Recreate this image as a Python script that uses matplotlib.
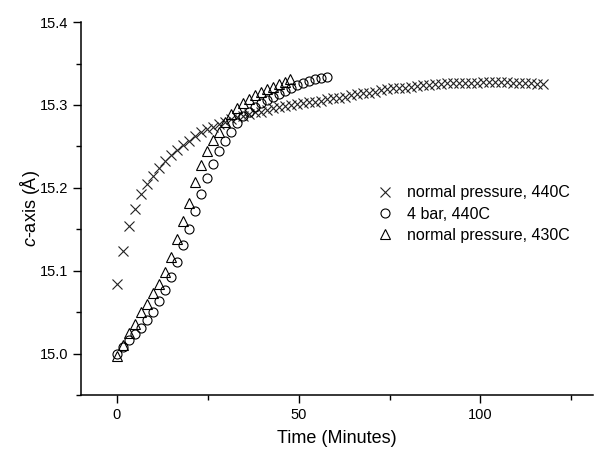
import matplotlib
matplotlib.use('Agg')
import matplotlib.pyplot as plt
from matplotlib.ticker import MultipleLocator

plt.rcParams['font.family'] = ['Liberation Sans', 'DejaVu Sans']
plt.rcParams['mathtext.fontset'] = 'custom'
plt.rcParams['mathtext.it'] = 'Liberation Sans:italic'
plt.rcParams['mathtext.rm'] = 'Liberation Sans'

# normal pressure, 440C  (x markers)
t_np440 = [0.0, 1.65, 3.3, 5.0, 6.6, 8.3, 9.9, 11.6, 13.2, 14.9, 16.5, 18.2, 19.8,
           21.5, 23.1, 24.8, 26.4, 28.1, 29.7, 31.4, 33.0, 34.7, 36.3, 38.0, 39.6,
           41.3, 42.9, 44.6, 46.2, 47.9, 49.5, 51.2, 52.8, 54.5, 56.1, 57.8, 59.4,
           61.1, 62.7, 64.4, 66.0, 67.7, 69.3, 71.0, 72.6, 74.3, 75.9, 77.6, 79.2,
           80.9, 82.5, 84.2, 85.8, 87.5, 89.1, 90.8, 92.4, 94.1, 95.7, 97.4, 99.0,
           100.7, 102.3, 104.0, 105.6, 107.3, 108.9, 110.6, 112.2, 113.9, 115.5, 117.2]
c_np440 = [15.084, 15.124, 15.154, 15.174, 15.192, 15.205, 15.214, 15.224, 15.233,
           15.240, 15.246, 15.252, 15.257, 15.262, 15.267, 15.271, 15.274, 15.277,
           15.280, 15.283, 15.285, 15.287, 15.289, 15.291, 15.292, 15.294, 15.296,
           15.297, 15.299, 15.300, 15.301, 15.302, 15.303, 15.304, 15.305, 15.307,
           15.308, 15.309, 15.310, 15.312, 15.313, 15.314, 15.315, 15.316, 15.318,
           15.319, 15.320, 15.320, 15.321, 15.322, 15.323, 15.324, 15.324, 15.325,
           15.325, 15.326, 15.326, 15.326, 15.327, 15.327, 15.327, 15.328, 15.328,
           15.328, 15.328, 15.328, 15.327, 15.327, 15.326, 15.326, 15.325, 15.325]

# 4 bar, 440C  (open circles)
t_4bar = [0.0, 1.65, 3.3, 4.95, 6.6, 8.25, 9.9, 11.55, 13.2, 14.85, 16.5, 18.15,
          19.8, 21.45, 23.1, 24.75, 26.4, 28.05, 29.7, 31.35, 33.0, 34.65, 36.3,
          37.95, 39.6, 41.25, 42.9, 44.55, 46.2, 47.85, 49.5, 51.15, 52.8, 54.45,
          56.1, 57.75]
c_4bar = [15.000, 15.008, 15.016, 15.024, 15.031, 15.040, 15.050, 15.063, 15.077,
          15.092, 15.110, 15.131, 15.150, 15.172, 15.192, 15.212, 15.229, 15.245,
          15.257, 15.267, 15.278, 15.287, 15.292, 15.297, 15.302, 15.306, 15.310,
          15.313, 15.317, 15.320, 15.324, 15.327, 15.329, 15.331, 15.333, 15.334]

# normal pressure, 430C  (open triangles)
t_np430 = [0.0, 1.65, 3.3, 4.95, 6.6, 8.25, 9.9, 11.55, 13.2, 14.85, 16.5, 18.15,
           19.8, 21.45, 23.1, 24.75, 26.4, 28.05, 29.7, 31.35, 33.0, 34.65, 36.3,
           37.95, 39.6, 41.25, 42.9, 44.55, 46.2, 47.5]
c_np430 = [14.997, 15.010, 15.025, 15.036, 15.050, 15.060, 15.073, 15.084, 15.098,
           15.116, 15.138, 15.160, 15.182, 15.207, 15.228, 15.245, 15.258, 15.268,
           15.280, 15.289, 15.296, 15.302, 15.307, 15.312, 15.316, 15.319, 15.322,
           15.325, 15.328, 15.331]

fig = plt.figure(figsize=(6.01, 4.51), dpi=100)
ax = fig.add_axes([0.134, 0.124, 0.853, 0.827])

ax.plot(t_np440, c_np440, 'x', ms=7.5, mew=0.8, color='#222222', linestyle='none',
        label='normal pressure, 440C')
ax.plot(t_4bar, c_4bar, 'o', ms=6.5, mew=0.8, mfc='none', mec='black', linestyle='none',
        label='4 bar, 440C')
ax.plot(t_np430, c_np430, '^', ms=7, mew=0.8, mfc='none', mec='black', linestyle='none',
        label='normal pressure, 430C')

ax.set_xlim(-10, 131)
ax.set_ylim(14.95, 15.4)
ax.xaxis.set_major_locator(MultipleLocator(50))
ax.xaxis.set_minor_locator(MultipleLocator(25))
ax.yaxis.set_major_locator(MultipleLocator(0.1))
ax.yaxis.set_minor_locator(MultipleLocator(0.05))
ax.yaxis.set_major_formatter(plt.FormatStrFormatter('%.1f'))

for s in ['top', 'right']:
    ax.spines[s].set_visible(False)
for s in ['left', 'bottom']:
    ax.spines[s].set_linewidth(1.1)
ax.tick_params(which='major', direction='out', length=6, width=1.0, labelsize=10.5, pad=3)
ax.tick_params(which='minor', direction='out', length=3.5, width=1.0)

ax.set_xlabel('Time (Minutes)', fontsize=13, labelpad=6)
ax.set_ylabel('$c$-axis (Å)', fontsize=13, labelpad=-2)

ax.legend(loc='center left', bbox_to_anchor=(0.566, 0.485), frameon=False,
          fontsize=11.5, handlelength=1.0, handletextpad=0.9, labelspacing=0.4,
          numpoints=1, borderaxespad=0)

fig.savefig('out.png', dpi=100)
